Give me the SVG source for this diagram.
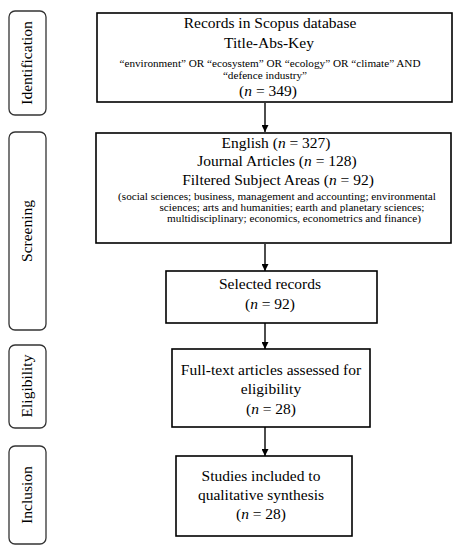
<svg xmlns="http://www.w3.org/2000/svg" width="458" height="550" viewBox="0 0 458 550">
<defs>
<style>
.box{fill:#fff;stroke:#000;stroke-width:1.6}
.side{fill:#fff;stroke:#333;stroke-width:1.3}
.t{font-family:"Liberation Serif","Times New Roman",serif;font-size:15.5px;fill:#000;text-anchor:middle}
.s{font-family:"Liberation Serif","Times New Roman",serif;font-size:11.2px;fill:#000;text-anchor:middle}
.lbl{font-family:"Liberation Serif","Times New Roman",serif;font-size:15.5px;fill:#000;text-anchor:middle}
.c{stroke:#000;stroke-width:1.4;fill:none}
</style>
<marker id="ah" viewBox="0 0 10 10" refX="10" refY="5" markerWidth="7" markerHeight="7" markerUnits="userSpaceOnUse" orient="auto">
<path d="M0,0 L10,5 L0,10 Z" fill="#000"/>
</marker>
</defs>
<rect width="458" height="550" fill="#fff"/>

<g id="side-identification">
<rect class="side" x="9" y="11" width="37" height="104" rx="6"/>
<text class="lbl" transform="translate(32,63) rotate(-90)">Identification</text>
</g>
<g id="side-screening">
<rect class="side" x="9" y="132" width="37" height="198" rx="6"/>
<text class="lbl" transform="translate(32,231) rotate(-90)">Screening</text>
</g>
<g id="side-eligibility">
<rect class="side" x="9" y="345" width="37" height="83" rx="6"/>
<text class="lbl" transform="translate(32,386) rotate(-90)">Eligibility</text>
</g>
<g id="side-inclusion">
<rect class="side" x="9" y="446" width="37" height="98" rx="6"/>
<text class="lbl" transform="translate(32,495) rotate(-90)">Inclusion</text>
</g>

<g id="connectors">
<line class="c" x1="265" y1="103" x2="265" y2="132" marker-end="url(#ah)"/>
<line class="c" x1="265" y1="244" x2="265" y2="271" marker-end="url(#ah)"/>
<line class="c" x1="265" y1="323" x2="265" y2="349" marker-end="url(#ah)"/>
<line class="c" x1="265" y1="427" x2="265" y2="456" marker-end="url(#ah)"/>
</g>

<g id="records">
<rect class="box" x="97" y="13" width="355" height="89" stroke-width="2"/>
<text class="t" x="270" y="28">Records in Scopus database</text>
<text class="t" x="269" y="48">Title-Abs-Key</text>
<text class="s" x="270" y="67">“environment” OR “ecosystem” OR “ecology” OR “climate” AND</text>
<text class="s" x="265" y="79">“defence industry”</text>
<text class="t" x="268" y="96">(<tspan font-style="italic">n</tspan> = 349)</text>
</g>

<g id="screening">
<rect class="box" x="96" y="133" width="355" height="110" stroke-width="2"/>
<text class="t" x="276" y="148">English (<tspan font-style="italic">n</tspan> = 327)</text>
<text class="t" x="277" y="166">Journal Articles (<tspan font-style="italic">n</tspan> = 128)</text>
<text class="t" x="278" y="185">Filtered Subject Areas (<tspan font-style="italic">n</tspan> = 92)</text>
<text class="s" x="277" y="200">(social sciences; business, management and accounting; environmental</text>
<text class="s" x="292" y="211">sciences; arts and humanities; earth and planetary sciences;</text>
<text class="s" x="294" y="222">multidisciplinary; economics, econometrics and finance)</text>
</g>

<g id="selected">
<rect class="box" x="166" y="271" width="211" height="52"/>
<text class="t" x="270" y="289">Selected records</text>
<text class="t" x="270" y="309">(<tspan font-style="italic">n</tspan> = 92)</text>
</g>

<g id="fulltext">
<rect class="box" x="172" y="349" width="198" height="78"/>
<text class="t" x="271" y="375">Full-text articles assessed for</text>
<text class="t" x="271" y="394">eligibility</text>
<text class="t" x="271" y="414">(<tspan font-style="italic">n</tspan> = 28)</text>
</g>

<g id="studies">
<rect class="box" x="176" y="456" width="176" height="80"/>
<text class="t" x="261" y="481">Studies included to</text>
<text class="t" x="261" y="500">qualitative synthesis</text>
<text class="t" x="261" y="519">(<tspan font-style="italic">n</tspan> = 28)</text>
</g>
</svg>
